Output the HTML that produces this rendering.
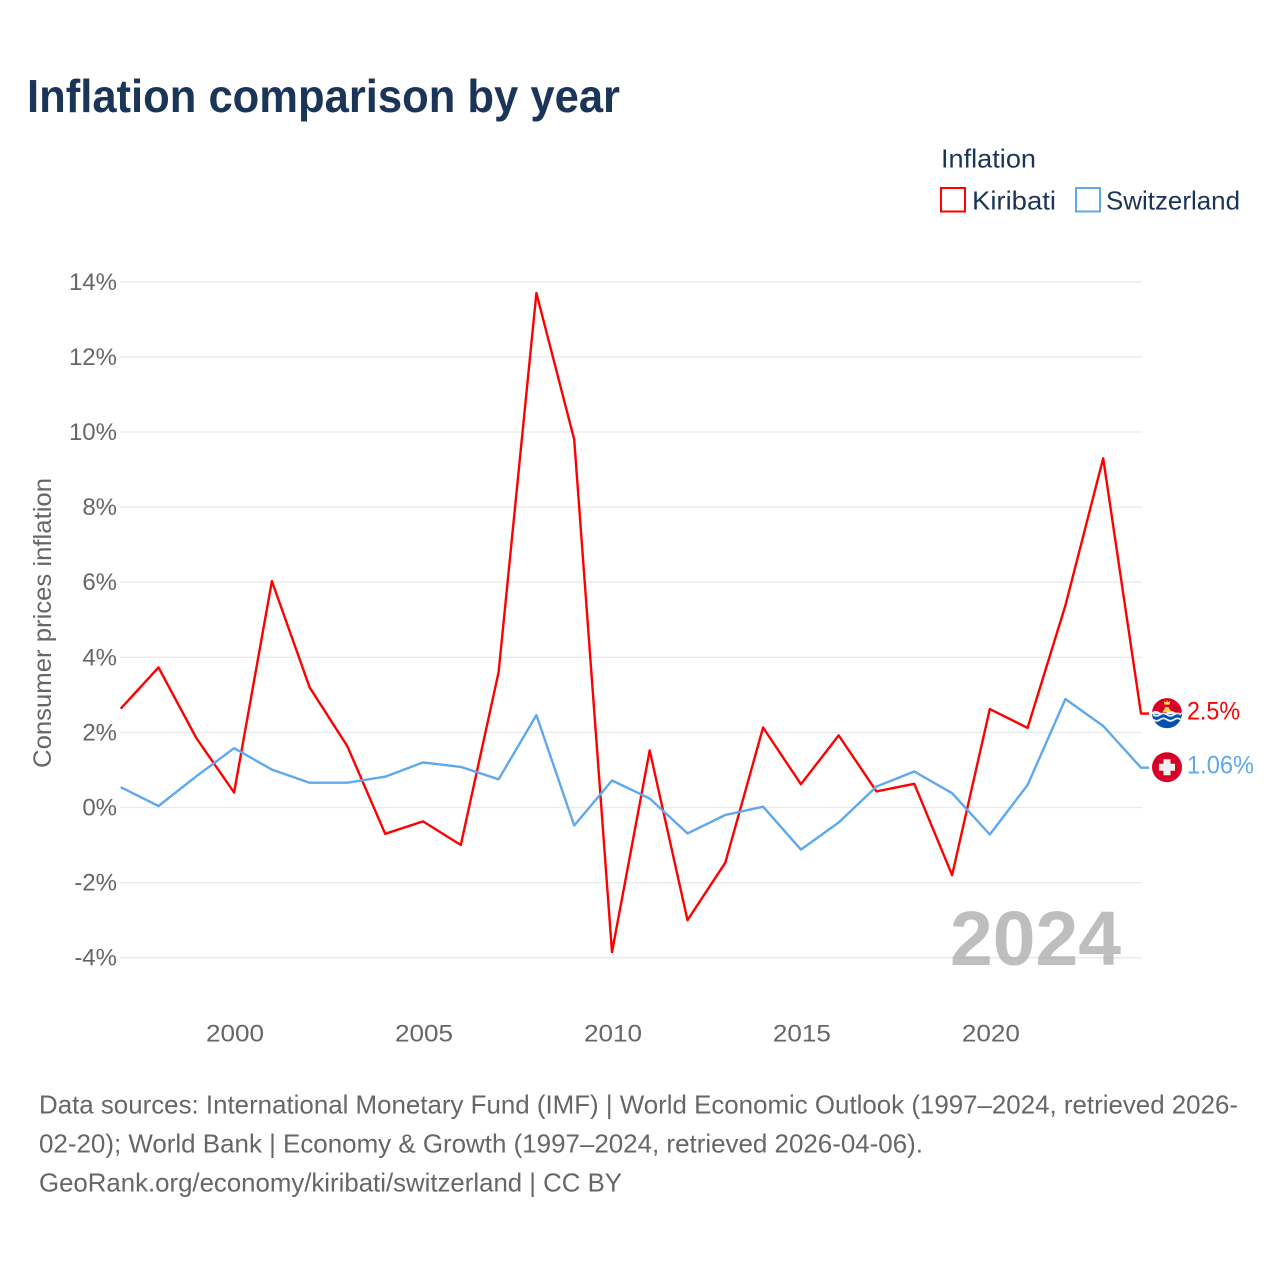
<!DOCTYPE html>
<html lang="en">
<head>
<meta charset="utf-8">
<title>Inflation comparison by year</title>
<style>
html,body{margin:0;padding:0;background:#fff;}
svg{display:block;font-family:"Liberation Sans",sans-serif;}
</style>
</head>
<body>
<svg id="chart" xmlns="http://www.w3.org/2000/svg" width="1280" height="1280" viewBox="0 0 1280 1280">
  <rect x="0" y="0" width="1280" height="1280" fill="#fff"/>
  <text x="27" y="112" font-size="46" font-weight="700" fill="#1a3557" textLength="593" lengthAdjust="spacingAndGlyphs">Inflation comparison by year</text>
  <text x="941" y="167.5" font-size="26" fill="#1a3557" textLength="95" lengthAdjust="spacingAndGlyphs">Inflation</text>
  <g>
    <rect x="941" y="188" width="24" height="23.5" fill="none" stroke="#ff0000" stroke-width="2"/>
    <text x="972" y="209.5" font-size="26" fill="#1a3557" textLength="84" lengthAdjust="spacingAndGlyphs">Kiribati</text>
  </g>
  <g>
    <rect x="1076" y="188" width="24" height="23.5" fill="none" stroke="#5fa8ee" stroke-width="2"/>
    <text x="1106" y="209.5" font-size="26" fill="#1a3557" textLength="134" lengthAdjust="spacingAndGlyphs">Switzerland</text>
  </g>
  <text transform="translate(51,623) rotate(-90)" text-anchor="middle" font-size="25" fill="#666" textLength="290" lengthAdjust="spacingAndGlyphs">Consumer prices inflation</text>
  <g id="grid"></g>
  <g id="yticks"></g>
  <g id="xticks"></g>
  <text id="watermark" x="950" y="965" font-size="77" font-weight="700" fill="#a8a8a8" fill-opacity="0.75" textLength="171" lengthAdjust="spacingAndGlyphs">2024</text>
  <g id="series"></g>
  <g id="endmarks"></g>
  <g font-size="26" fill="#666">
    <text x="39" y="1113.5" textLength="1199" lengthAdjust="spacingAndGlyphs">Data sources: International Monetary Fund (IMF) | World Economic Outlook (1997–2024, retrieved 2026-</text>
    <text x="39" y="1152.5" textLength="884" lengthAdjust="spacingAndGlyphs">02-20); World Bank | Economy &amp; Growth (1997–2024, retrieved 2026-04-06).</text>
    <text x="39" y="1191.5" textLength="583" lengthAdjust="spacingAndGlyphs">GeoRank.org/economy/kiribati/switzerland | CC BY</text>
  </g>
</svg>
<script>
var years = [1997,1998,1999,2000,2001,2002,2003,2004,2005,2006,2007,2008,2009,2010,2011,2012,2013,2014,2015,2016,2017,2018,2019,2020,2021,2022,2023,2024];
var kiribati = [2.63,3.73,1.85,0.4,6.03,3.2,1.63,-0.7,-0.37,-1.0,3.6,13.7,9.8,-3.85,1.52,-3.0,-1.47,2.13,0.62,1.92,0.43,0.63,-1.8,2.62,2.12,5.38,9.3,2.5];
var switzerland = [0.54,0.04,0.83,1.58,1.01,0.66,0.66,0.82,1.2,1.08,0.75,2.46,-0.48,0.72,0.24,-0.69,-0.2,0.02,-1.12,-0.4,0.56,0.96,0.38,-0.72,0.6,2.89,2.17,1.06];
var yTickValues = [14,12,10,8,6,4,2,0,-2,-4];
var xTickValues = [2000,2005,2010,2015,2020];
var kiribatiLabel = "2.5%";
var switzerlandLabel = "1.06%";

var NS = "http://www.w3.org/2000/svg";
function xScale(v){ return 120.7 + (v - 1997) * (1141 - 120.7) / 27; }
function yScale(v){ return 807.5 - v * 37.55; }
function make(tag, parent){
  var el = document.createElementNS(NS, tag);
  parent.appendChild(el);
  return el;
}
var grid = document.getElementById("grid");
var yticks = document.getElementById("yticks");
var xticks = document.getElementById("xticks");
var series = document.getElementById("series");
var endmarks = document.getElementById("endmarks");

yTickValues.forEach(function(v){
  var line = make("line", grid);
  
  
  line.setAttribute("x1", 120);
  line.setAttribute("x2", 1142);
  line.setAttribute("y1", yScale(v));
  line.setAttribute("y2", yScale(v));
  line.setAttribute("stroke", "#e9e9e9");
  line.setAttribute("stroke-width", "1.3");
  var t = make("text", yticks);
  
  
  t.setAttribute("x", 117);
  t.setAttribute("y", yScale(v) + 8);
  t.setAttribute("text-anchor", "end");
  t.setAttribute("font-size", "24");
  t.setAttribute("fill", "#666");
  t.textContent = v + "%";
});

xTickValues.forEach(function(v){
  var t = make("text", xticks);
  
  
  t.setAttribute("x", xScale(v) + 1);
  t.setAttribute("y", 1041.5);
  t.setAttribute("text-anchor", "middle");
  t.setAttribute("font-size", "24");
  t.setAttribute("fill", "#666");
  t.setAttribute("textLength", "58");
  t.setAttribute("lengthAdjust", "spacingAndGlyphs");
  t.textContent = String(v);
});

function drawSeries(values, color, name){
  var pts = values.map(function(v, i){ return xScale(years[i]).toFixed(1) + "," + yScale(v).toFixed(1); });
  var last = values[values.length - 1];
  pts.push((xScale(years[years.length - 1]) + 8).toFixed(1) + "," + yScale(last).toFixed(1));
  var p = make("polyline", series);
  
  
  p.setAttribute("points", pts.join(" "));
  p.setAttribute("fill", "none");
  p.setAttribute("stroke", color);
  p.setAttribute("stroke-width", "2.4");
  p.setAttribute("stroke-linejoin", "round");
}
drawSeries(kiribati, "#ff0000", "kiribati-line");
drawSeries(switzerland, "#5fa8ee", "switzerland-line");

function drawKiribatiFlag(cy){
  var g = make("g", endmarks);
  
  
  g.setAttribute("transform", "translate(1167," + cy + ")");
  var c = make("circle", g);
  c.setAttribute("r", 15); c.setAttribute("fill", "#d80027");
  var b = make("path", g);
  b.setAttribute("d", "M-15,0 A15,15 0 0 0 15,0 Z"); b.setAttribute("fill", "#0052b4");
  [1.5, 6.5].forEach(function(dy){
    var w = make("path", g);
    w.setAttribute("d", "M-14," + dy + " q3.5,2.5 7,0 t7,0 t7,0 t7,0");
    w.setAttribute("fill", "none");
    w.setAttribute("stroke", "#f0f0f0");
    w.setAttribute("stroke-width", "1.8");
  });
  var top = make("path", g);
  top.setAttribute("d", "M-15,-1 q3.75,-2.5 7.5,0 t7.5,0 t7.5,0 t7.5,0 V1 H-15 Z");
  top.setAttribute("fill", "#f0f0f0");
  var s = make("path", g);
  s.setAttribute("d", "M-4.5,-1 L-1.5,-6 L1.5,-6 L4.5,-1 Z M-3.5,-12 L-1,-11 L0,-13 L1,-11 L3.5,-12 L2.5,-8.5 L-2.5,-8.5 Z");
  s.setAttribute("fill", "#ffda44");
}
function drawSwissFlag(cy){
  var g = make("g", endmarks);
  
  
  g.setAttribute("transform", "translate(1167," + cy + ")");
  var c = make("circle", g);
  c.setAttribute("r", 15); c.setAttribute("fill", "#d80027");
  var h = make("path", g);
  h.setAttribute("d", "M-3.5,-8 H3.5 V-3.5 H8 V3.5 H3.5 V8 H-3.5 V3.5 H-8 V-3.5 H-3.5 Z");
  h.setAttribute("fill", "#f0f0f0");
}
function drawLabel(text, cy, color, width, name){
  var t = make("text", endmarks);
  
  
  t.setAttribute("x", 1187);
  t.setAttribute("y", cy + 8);
  t.setAttribute("font-size", "25");
  t.setAttribute("fill", color);
  t.setAttribute("textLength", width);
  t.setAttribute("lengthAdjust", "spacingAndGlyphs");
  t.textContent = text;
}
var ky = yScale(kiribati[kiribati.length - 1]);
var sy = yScale(switzerland[switzerland.length - 1]);
drawKiribatiFlag(ky - 0.5);
drawSwissFlag(sy - 0.5);
drawLabel(kiribatiLabel, ky - 2, "#ff0000", 53, "kiribati-value-label");
drawLabel(switzerlandLabel, sy - 2, "#5fa8ee", 67, "switzerland-value-label");
</script>
</body>
</html>
